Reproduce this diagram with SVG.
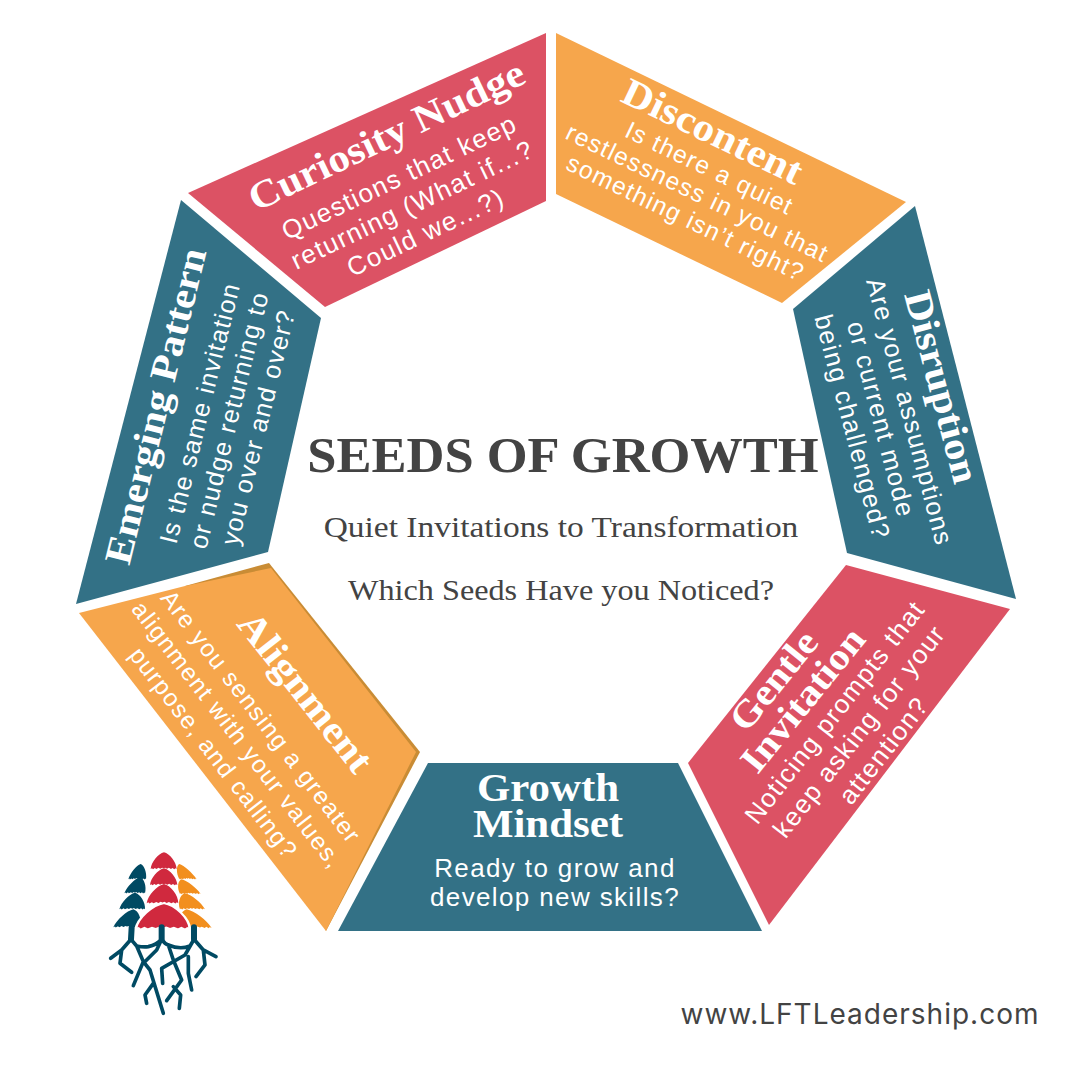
<svg xmlns="http://www.w3.org/2000/svg" width="1080" height="1080" viewBox="0 0 1080 1080">
<style>
.teal{fill:#337186}.red{fill:#dc5264}.org{fill:#f6a64c}
.t{font-family:"Liberation Serif",serif;font-weight:700;font-size:39px;fill:#fff;text-anchor:middle}
.b{font-family:"Liberation Sans",sans-serif;letter-spacing:.0527em;fill:#fff;text-anchor:middle}
.h{font-family:"Liberation Serif",serif;fill:#434343;text-anchor:middle}
.root{fill:none;stroke:#004a63;stroke-linecap:round;stroke-linejoin:round}
</style>
<defs>
<path id="tier" d="M50,0C72,8 98,58 100,100L95,95L91,101L84,94L78,100L70,93L63,98L56,92L50,96L44,92L37,98L30,93L22,100L16,94L9,101L5,95L0,100C2,58 28,8 50,0Z"/>
</defs>
<rect width="1080" height="1080" fill="#fff"/>
<g id="curiosity-nudge">
<polygon class="red" points="546,33 546,201 325,307 188,193"/>
<g transform="translate(392,147) rotate(-25.5) scale(1.1,1)"><text class="t">Curiosity Nudge</text></g>
<g transform="translate(403,185) rotate(-25.5)" font-size="26"><text class="b" y="0">Questions that keep</text><text class="b" y="30.7">returning (What if...?</text><text class="b" y="61.4">Could we...?)</text></g>
</g>
<g id="discontent">
<polygon class="org" points="556,33 906,202 782,303 556,194"/>
<g transform="translate(707,143) rotate(25.7) scale(1.1,1)"><text class="t">Discontent</text></g>
<g transform="translate(705.8,175.8) rotate(25.7)" font-size="24.6"><text class="b" y="0">Is there a quiet</text><text class="b" y="27.5">restlessness in you that</text><text class="b" y="55">something isn’t right?</text></g>
</g>
<g id="disruption">
<polygon class="teal" points="915,206 1016,599 847,553 793,309"/>
<g transform="translate(929.3,390) rotate(75.2) scale(1.1,1)"><text class="t">Disruption</text></g>
<g transform="translate(901.3,414) rotate(75.2)" font-size="25.7"><text class="b" y="0">Are your assumptions</text><text class="b" y="29.7">or current mode</text><text class="b" y="59.4">being challenged?</text></g>
</g>
<g id="gentle-invitation">
<polygon class="red" points="846,565 1010,609 769,925 688,763"/>
<g transform="translate(783.3,688.3) rotate(-51) scale(1.1,1)"><text class="t" style="font-size:37.5px">Gentle</text><text class="t" style="font-size:37.5px" x="3" y="34.7">Invitation</text></g>
<g transform="translate(841.7,717.7) rotate(-52)" font-size="26"><text class="b" y="0">Noticing prompts that</text><text class="b" y="31">keep asking for your</text><text class="b" y="62">attention?</text></g>
</g>
<g id="growth-mindset">
<polygon class="teal" points="428,763 678,763 762,931 338,931"/>
<g transform="translate(548,0) scale(1.1,1)"><text class="t" y="801">Growth</text><text class="t" y="837">Mindset</text></g>
<g font-size="26"><text class="b" x="555" y="877">Ready to grow and</text><text class="b" x="555" y="906">develop new skills?</text></g>
</g>
<g id="alignment">
<polygon fill="#c98c35" points="185,586 269,563 420,752 326,931"/>
<polygon class="org" points="79,613 185,586 271,568 416,752 326,931"/>
<g transform="translate(295.3,700) rotate(51.8) scale(1.1,1)"><text class="t">Alignment</text></g>
<g transform="translate(254.3,721.7) rotate(52.5)" font-size="24.4"><text class="b" y="0">Are you sensing a greater</text><text class="b" y="29.8">alignment with your values,</text><text class="b" y="59.6">purpose, and calling?</text></g>
</g>
<g id="emerging-pattern">
<polygon class="teal" points="181,200 321,318 268,552 76,604"/>
<g transform="translate(168,409) rotate(-76.2) scale(1.1,1)"><text class="t" style="font-size:38.3px">Emerging Pattern</text></g>
<g transform="translate(208.3,415) rotate(-76.2)" font-size="25.4"><text class="b" y="0">Is the same invitation</text><text class="b" y="30">or nudge returning to</text><text class="b" y="60">you over and over?</text></g>
</g>
<g id="center-title">
<text class="h" transform="translate(563,472) scale(1.05,1)" font-size="50" font-weight="700">SEEDS OF GROWTH</text>
<text class="h" transform="translate(561,537) scale(1.115,1)" font-size="30">Quiet Invitations to Transformation</text>
<text class="h" transform="translate(561,600) scale(1.075,1)" font-size="30">Which Seeds Have you Noticed?</text>
</g>
<g id="logo" transform="translate(90,840) scale(.3333)">
<g fill="#004a63">
<use href="#tier" transform="matrix(.53 0 -.105 .46 125.5 72)"/>
<use href="#tier" transform="matrix(.62 0 -.16 .48 119 112)"/>
<use href="#tier" transform="matrix(.77 0 -.085 .5 96.5 158)"/>
<use href="#tier" transform="matrix(.8 0 -.2 .54 90 208)"/>
</g>
<g fill="#f28f1e">
<use href="#tier" transform="matrix(.52 0 .26 .46 242 72)"/>
<use href="#tier" transform="matrix(.62 0 .26 .44 244 118)"/>
<use href="#tier" transform="matrix(.75 0 .225 .48 247.5 160)"/>
<use href="#tier" transform="matrix(.93 0 .285 .56 243.5 208)"/>
</g>
<g fill="#d0293e">
<use href="#tier" transform="matrix(.78 0 -.01 .5 183 37)"/>
<use href="#tier" transform="matrix(.82 0 -.01 .5 181 85)"/>
<use href="#tier" transform="matrix(.95 0 -.045 .58 174.5 132)"/>
<use href="#tier" stroke="#fff" stroke-width="5" transform="matrix(1.63 0 -.035 .78 140.5 190)"/>
</g>
<path class="root" stroke-width="18" d="M125,262L123,298M215,262L215,298M312,262L312,298"/>
<path class="root" stroke-width="11" d="M123,298L140,318Q160,322 175,320Q200,315 215,298Q225,312 235,315Q270,330 300,318L312,298M123,298L95,330L62,355M95,330L90,370L125,397M140,318L160,365L130,437M160,365L180,390L220,520M215,298L200,330L160,370M235,315L250,360L275,420L230,482M250,440L272,465L268,505M190,430L165,465L170,490M312,298L285,345L215,385L218,430M312,298L340,330L378,350M340,330L345,375L318,410M295,350L295,400L305,450"/>
</g>
<g id="website"><text x="860" y="1024" font-family="Inter,sans-serif" font-size="28" letter-spacing="1" fill="#434343" text-anchor="middle">www.LFTLeadership.com</text></g>
</svg>
